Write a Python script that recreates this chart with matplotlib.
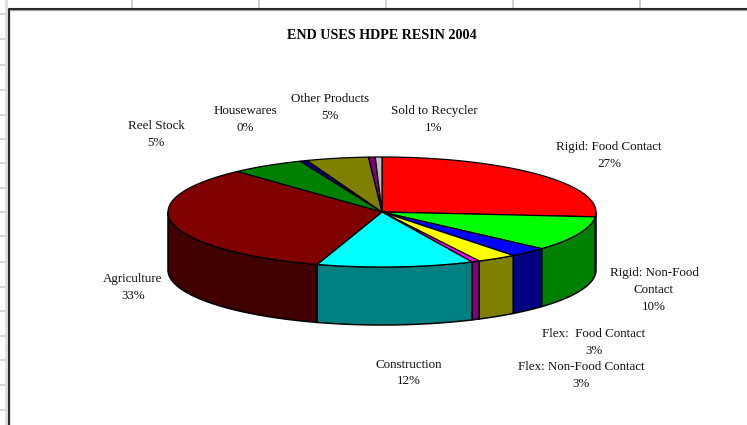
import numpy as np
import matplotlib
matplotlib.use("Agg")
import matplotlib.pyplot as plt
from matplotlib.patches import Polygon

# ================================
# DATA
# ================================
title = "END USES HDPE RESIN 2004"

# slice shares, clockwise from 12 o'clock (estimated, the labels are rounded)
shares = [26.4, 10.2, 2.9, 3.0, 0.6, 11.8, 33.3, 5.55, 0.55, 4.7, 0.5, 0.5]
top_colors = ["#ff0000", "#00ff00", "#0000ff", "#ffff00", "#ff00ff", "#00ffff",
              "#800000", "#008000", "#000080", "#808000", "#800080", "#c0c0c0"]
side_colors = ["#800000", "#008000", "#000080", "#808000", "#800080", "#008080",
               "#400000", "#004000", "#000040", "#404000", "#400040", "#606060"]

label_texts = ["Rigid: Food Contact\n27%", "Rigid: Non-Food\nContact\n10%",
               "Flex:  Food Contact\n3%", "Flex: Non-Food Contact\n3%",
               "Construction\n12%", "Agriculture\n33%", "Reel Stock\n5%",
               "Housewares\n0%", "Other Products\n5%", "Sold to Recycler\n1%"]
label_x = [609, 654, 594, 581, 409, 133, 156, 245, 330, 434]
label_y = [155.5, 290, 342.5, 375.5, 373, 287.5, 134.5, 119.5, 107.5, 119.5]

col_ticks = [132, 259, 386, 513, 640]
row_lines = [14, 39, 65, 90, 115, 139, 163, 188, 212, 236, 262, 287, 311, 336, 360, 385, 410]

# ================================
# GEOMETRY
# ================================
cx, cy = 382, 212
rx, ry = 214, 55
depth = 58


def rim(t):
    return cx + rx * np.sin(t), cy - ry * np.cos(t)


fig = plt.figure(figsize=(7.47, 4.25), dpi=100)
ax = fig.add_axes([0, 0, 1, 1])
ax.set_xlim(0, 747)
ax.set_ylim(425, 0)
ax.axis("off")

# spreadsheet behind the chart
for x in col_ticks:
    ax.plot([x, x], [0, 8], color="#c8c8c8", lw=1.2, zorder=1)
for y in row_lines:
    ax.plot([0, 9], [y, y], color="#cfcfcf", lw=1.2, zorder=1)
ax.plot([6, 6], [0, 425], color="#dddddd", lw=2, zorder=1)

# chart frame runs off the picture on the right and at the bottom
ax.plot([747, 9, 9], [9.5, 9.5, 425], color="#aaaaaa", lw=1, zorder=2)
ax.plot([747, 9, 9], [8.5, 8.5, 425], color="#2a2a2a", lw=1.5, zorder=2)

edges = np.cumsum([0] + shares) / sum(shares) * 2 * np.pi

# side wall, only the front half of the rim shows
for i in range(len(shares)):
    t0 = max(edges[i], np.pi / 2)
    t1 = min(edges[i + 1], 3 * np.pi / 2)
    if t1 <= t0:
        continue
    t = np.linspace(t0, t1, 60)
    x, y = rim(t)
    pts = np.r_[np.c_[x, y], np.c_[x[::-1], y[::-1] + depth]]
    ax.add_patch(Polygon(pts, closed=True, fc=side_colors[i], ec="black", lw=1.1, zorder=3))

# top face
for i in range(len(shares)):
    t = np.linspace(edges[i], edges[i + 1], 120)
    x, y = rim(t)
    pts = np.r_[[[cx, cy]], np.c_[x, y]]
    ax.add_patch(Polygon(pts, closed=True, fc=top_colors[i], ec="black", lw=0.9, zorder=4))

ax.text(382, 35.5, title, ha="center", va="center", fontsize=10.2, fontweight="bold",
        family="Liberation Serif", color="black", zorder=5)

for txt, x, y in zip(label_texts, label_x, label_y):
    ax.text(x, y, txt, ha="center", va="center", fontsize=9.4, linespacing=1.55,
            family="Liberation Serif", color="#111111", zorder=5)

plt.savefig("out.png", dpi=100)
plt.close()
